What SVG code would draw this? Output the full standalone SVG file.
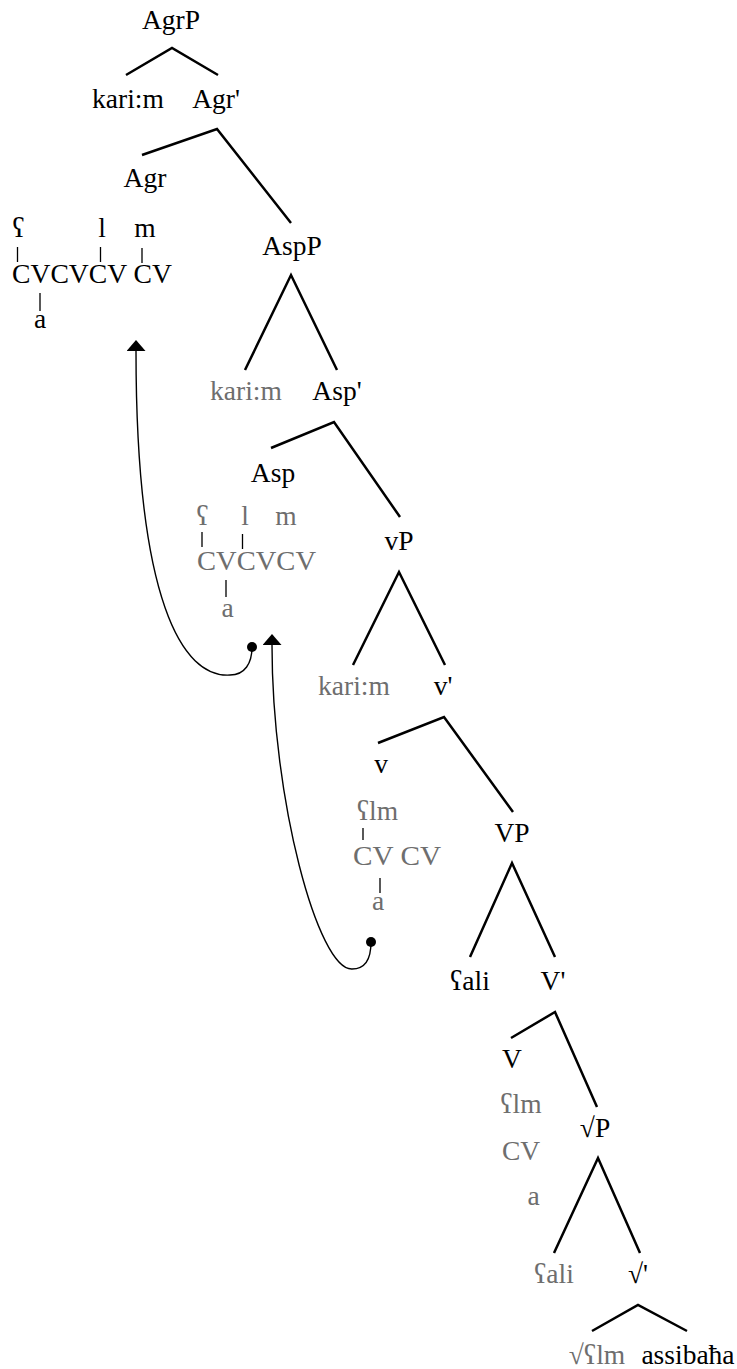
<svg xmlns="http://www.w3.org/2000/svg" width="737" height="1369" viewBox="0 0 737 1369">
<style>
text{font-family:"Liberation Serif","Times New Roman",serif;font-size:27.5px;text-anchor:middle;fill:#000}
.g{fill:#6e6e6e}
.st{text-anchor:start}
.br{stroke:#000;stroke-width:2.5;fill:none}
.tk{stroke:#000;stroke-width:1.3;fill:none}
.mv{stroke:#000;stroke-width:1.4;fill:none;marker-start:url(#dot);marker-end:url(#head)}
</style>
<defs>
<marker id="head" markerUnits="userSpaceOnUse" viewBox="0 0 11 19" refX="0" refY="9.5" markerWidth="11" markerHeight="19" orient="auto">
<path d="M0,0 L11,9.5 L0,19 z" fill="#000"/>
</marker>
<marker id="dot" markerUnits="userSpaceOnUse" viewBox="0 0 10 10" refX="5" refY="5" markerWidth="10" markerHeight="10" orient="auto">
<circle cx="5" cy="5" r="5" fill="#000"/>
</marker>
</defs>
<rect width="737" height="1369" fill="#fff"/>
<g id="connectors">
<path class="br" d="M126,75 L172,48 L218,75"/>
<path class="br" d="M142,155 L217,129 L291,223"/>
<path class="br" d="M245,370 L291,275 L337,370"/>
<path class="br" d="M271,448 L334,422 L400,517"/>
<path class="br" d="M353,665 L399,572 L445,665"/>
<path class="br" d="M378,743 L444,717 L513,812"/>
<path class="br" d="M470,957 L512,863 L555,957"/>
<path class="br" d="M511,1038 L555,1012 L597,1107"/>
<path class="br" d="M554,1253 L598,1158 L640,1253"/>
<path class="br" d="M592,1331 L638,1305 L687,1331"/>
<path class="mv" d="M252,647 C252,663 245,675 230,675 C182,678 136,600 136,351"/>
<path class="mv" d="M371,942 C371,958 366,969 352,969 C318,970 272,800 272,645"/>
</g>
<g id="AgrP"><text x="171" y="29">AgrP</text></g>
<g id="karim1"><text x="128" y="108">kari:m</text></g>
<g id="AgrBar"><text x="216" y="108">Agr'</text></g>
<g id="Agr"><text x="145" y="187">Agr</text></g>
<g id="Agr-template">
<text x="18.5" y="237">ʕ</text>
<text x="102" y="237">l</text>
<text x="145" y="237">m</text>
<path class="tk" d="M17.5,247 V262 M100.5,247 V262 M142,248 V263 M40,293 V311"/>
<text class="st" x="12" y="283" textLength="160" lengthAdjust="spacingAndGlyphs">CVCVCV CV</text>
<text x="40" y="328">a</text>
</g>
<g id="AspP"><text x="292" y="255">AspP</text></g>
<g id="karim2"><text class="g" x="246" y="400">kari:m</text></g>
<g id="AspBar"><text x="337" y="400">Asp'</text></g>
<g id="Asp"><text x="273" y="482">Asp</text></g>
<g id="Asp-template">
<text class="g" x="202.5" y="525">ʕ</text>
<text class="g" x="245" y="525">l</text>
<text class="g" x="286" y="525">m</text>
<path class="tk" d="M202,532 V547 M242.5,534 V549 M226,580 V597"/>
<text class="g st" x="197" y="570" textLength="119" lengthAdjust="spacingAndGlyphs">CVCVCV</text>
<text class="g" x="227.5" y="617">a</text>
</g>
<g id="vP"><text x="399" y="550">vP</text></g>
<g id="karim3"><text class="g" x="354" y="695">kari:m</text></g>
<g id="vBar"><text x="443" y="695">v'</text></g>
<g id="v"><text x="381" y="773">v</text></g>
<g id="v-template">
<text class="g" x="377.5" y="820">ʕlm</text>
<path class="tk" d="M363,828 V840 M380,878 V893"/>
<text class="g st" x="353" y="865" textLength="88" lengthAdjust="spacingAndGlyphs">CV CV</text>
<text class="g" x="378" y="910">a</text>
</g>
<g id="VP"><text x="512" y="842">VP</text></g>
<g id="ali1"><text x="470" y="990">ʕali</text></g>
<g id="VBar"><text x="553" y="990">V'</text></g>
<g id="V"><text x="512" y="1068">V</text></g>
<g id="V-template">
<text class="g" x="521" y="1113">ʕlm</text>
<text class="g" x="521" y="1160">CV</text>
<text class="g" x="533.5" y="1205">a</text>
</g>
<g id="RootP"><text x="595" y="1137">√P</text></g>
<g id="ali2"><text class="g" x="554" y="1283">ʕali</text></g>
<g id="RootBar"><text x="638" y="1283">√'</text></g>
<g id="Root"><text class="g" x="597" y="1364">√ʕlm</text></g>
<g id="assibaha"><text x="688" y="1364">assibaħa</text></g>
</svg>
